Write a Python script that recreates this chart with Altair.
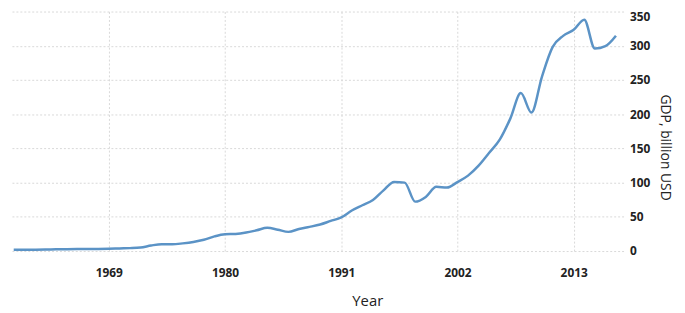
import altair as alt
import pandas as pd

years = list(range(1960, 2018))
gdp = [1.92, 1.92, 2.00, 2.29, 2.48, 2.70, 2.89, 2.96, 3.04, 3.33,
       3.86, 4.24, 5.08, 8.05, 10.0, 9.91, 11.2, 13.2, 16.4, 21.4,
       24.5, 25.0, 27.0, 30.3, 33.9, 31.2, 28.0, 32.2, 35.3, 38.8,
       44.0, 49.1, 59.2, 66.9, 74.5, 88.7, 100.9, 100.0, 72.2, 79.1,
       93.8, 92.8, 100.8, 110.2, 124.7, 143.5, 162.7, 193.5, 230.8, 202.3,
       255.0, 298.0, 314.4, 323.3, 338.1, 296.0, 299.5, 314.7]
x_ticks = [1969, 1980, 1991, 2002, 2013]
y_ticks = [0, 50, 100, 150, 200, 250, 300, 350]

df = pd.DataFrame({"Year": years, "GDP": gdp})

chart = alt.Chart(df).mark_line(
    color="#5b93c6", strokeWidth=2.5, interpolate="monotone"
).encode(
    x=alt.X("Year:Q",
            scale=alt.Scale(domain=[1959.74, 2017.72], nice=False, zero=False),
            axis=alt.Axis(values=x_ticks, format="d", title="Year",
                          ticks=False, domain=False, labelPadding=17,
                          labelFont="Open Sans", labelFontWeight="bold",
                          labelFontSize=12, labelColor="#222",
                          titleFont="Open Sans", titleFontWeight="normal",
                          titleFontSize=15, titleColor="#222",
                          titleX=360, titleY=50, titleBaseline="middle",
                          titleAlign="center",
                          gridColor="#d9d9d9", gridDash=[2, 2])),
    y=alt.Y("GDP:Q",
            scale=alt.Scale(domain=[0, 350], nice=False),
            axis=alt.Axis(orient="right", values=y_ticks, title="GDP, billion USD",
                          ticks=False, domain=False, labelPadding=6,
                          labelBaseline={"condition": {"test": "datum.value == 350",
                                                       "value": "top"},
                                         "value": "middle"},
                          labelFont="Open Sans", labelFontWeight="bold",
                          labelFontSize=12, labelColor="#222",
                          titleFont="Open Sans", titleFontWeight="normal",
                          titleFontSize=14, titleColor="#222",
                          titleAngle=90, titlePadding=8, titleY=137,
                          titleAlign="center",
                          gridColor="#d9d9d9", gridDash=[2, 2])),
).properties(
    width=619, height=242,
    padding={"left": 0, "top": 1, "right": 5, "bottom": 0},
).configure_view(stroke=None)

chart.save("out.html", embed_options={"renderer": "svg", "actions": False})
